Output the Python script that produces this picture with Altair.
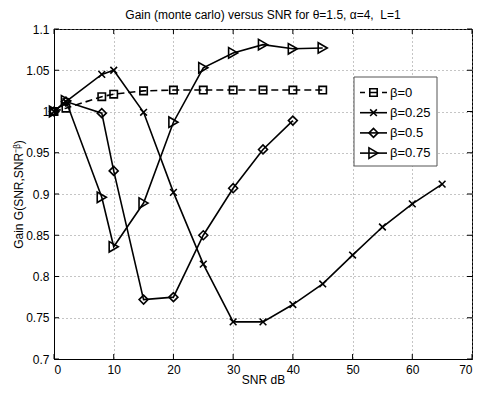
import altair as alt
import pandas as pd

# ---- data ----
labels = ["β=0", "β=0.25", "β=0.5", "β=0.75"]
snr_b0 = [0, 2, 8, 10, 15, 20, 25, 30, 35, 40, 45]
gain_b0 = [1.000, 1.004, 1.018, 1.021, 1.025, 1.026, 1.026, 1.026, 1.026, 1.026, 1.026]
snr_b25 = [0, 2, 8, 10, 15, 20, 25, 30, 35, 40, 45, 50, 55, 60, 65]
gain_b25 = [1.000, 1.012, 1.045, 1.050, 0.999, 0.902, 0.815, 0.745, 0.745, 0.766,
            0.791, 0.826, 0.860, 0.888, 0.912]
snr_b50 = [0, 2, 8, 10, 15, 20, 25, 30, 35, 40]
gain_b50 = [1.000, 1.012, 0.998, 0.928, 0.772, 0.775, 0.850, 0.907, 0.954, 0.989]
snr_b75 = [0, 2, 8, 10, 15, 20, 25, 30, 35, 40, 45]
gain_b75 = [1.000, 1.013, 0.896, 0.836, 0.889, 0.987, 1.053, 1.071, 1.081, 1.076, 1.077]

x_ticks = [0, 10, 20, 30, 40, 50, 60, 70]
y_ticks = [0.7, 0.75, 0.8, 0.85, 0.9, 0.95, 1.0, 1.05, 1.1]

series_x = [snr_b0, snr_b25, snr_b50, snr_b75]
series_y = [gain_b0, gain_b25, gain_b50, gain_b75]

# ---- styles ----
XPATH = "M-1,-1L1,1M1,-1L-1,1"
shapes = ["square", XPATH, "diamond", "triangle-right"]
sizes = [55, 45, 80, 110]
dashes = [[7, 4], None, None, None]

W, H = 418, 330
FONT = "Liberation Sans"

xs = alt.Scale(domain=[0, 70], nice=False, zero=False)
ys = alt.Scale(domain=[0.7, 1.1], nice=False, zero=False)

layers = []

# inward ticks (from tick lists)
xt = pd.DataFrame({"x": x_ticks})
yt = pd.DataFrame({"y": y_ticks})
for y0, y1 in [(H, H - 5), (0, 5)]:
    layers.append(alt.Chart(xt).mark_rule(color="black", strokeWidth=1).encode(
        x=alt.X("x:Q", scale=xs), y=alt.value(y0), y2=alt.value(y1)))
for x0, x1 in [(0, 5), (W, W - 5)]:
    layers.append(alt.Chart(yt).mark_rule(color="black", strokeWidth=1).encode(
        y=alt.Y("y:Q", scale=ys), x=alt.value(x0), x2=alt.value(x1)))

for i in range(4):
    df = pd.DataFrame({"snr": series_x[i], "gain": series_y[i]})
    lkw = dict(color="black", strokeWidth=1.6)
    if dashes[i]:
        lkw["strokeDash"] = dashes[i]
    base = alt.Chart(df).encode(
        x=alt.X("snr:Q", scale=xs,
                axis=alt.Axis(values=x_ticks, title="SNR dB", grid=True, ticks=False,
                              format="d", labelPadding=5, titleBaseline="alphabetic",
                              titleY=24)),
        y=alt.Y("gain:Q", scale=ys,
                axis=alt.Axis(values=y_ticks, title="Gain G(SNR,SNR⁻ᵝ)", grid=True,
                              ticks=False, format="~g", labelPadding=5,
                              titleBaseline="middle", titleX=-36)),
    )
    layers.append(base.mark_line(**lkw))
    layers.append(base.mark_point(shape=shapes[i], size=sizes[i], filled=False,
                                  color="black", strokeWidth=1.6, opacity=1))

# legend (manual, MATLAB style)
box = pd.DataFrame({"k": [0]})
layers.append(alt.Chart(box).mark_rect(fill="white", stroke="#555", strokeWidth=1).encode(
    x=alt.value(300), x2=alt.value(383), y=alt.value(48), y2=alt.value(137)))
for i, lab in enumerate(labels):
    ly = 63.5 + 20.2 * i
    one = pd.DataFrame({"label": [lab]})
    rkw = dict(color="black", strokeWidth=1.6)
    if dashes[i]:
        rkw["strokeDash"] = [5, 4.5, 8, 4.5, 5]
    layers.append(alt.Chart(one).mark_rule(**rkw).encode(
        x=alt.value(306), x2=alt.value(333), y=alt.value(ly)))
    layers.append(alt.Chart(one).mark_point(shape=shapes[i], size=sizes[i], filled=False,
                                            color="black", strokeWidth=1.6, opacity=1).encode(
        x=alt.value(319.5), y=alt.value(ly)))
    layers.append(alt.Chart(one).mark_text(align="left", baseline="middle", font=FONT,
                                           fontSize=13, color="black").encode(
        x=alt.value(336), y=alt.value(ly), text="label:N"))

chart = alt.layer(*layers).properties(
    width=W, height=H,
    title=alt.TitleParams("Gain (monte carlo) versus SNR for θ=1.5, α=4,\u00a0 L=1",
                          font=FONT, fontSize=12, fontWeight="normal", color="black",
                          anchor="middle", offset=1),
    autosize=alt.AutoSizeParams(type="none"),
    padding={"left": 46, "top": 21, "right": 3, "bottom": 27},
).configure_view(stroke="black", strokeWidth=1).configure_axis(
    labelFont=FONT, labelFontSize=12, labelColor="black",
    titleFont=FONT, titleFontSize=12, titleFontWeight="normal", titleColor="black",
    domainColor="black", gridColor="#8a8a8a", gridDash=[1, 3], gridWidth=1,
)

chart.save("out.html", embed_options={"renderer": "svg", "actions": False})
